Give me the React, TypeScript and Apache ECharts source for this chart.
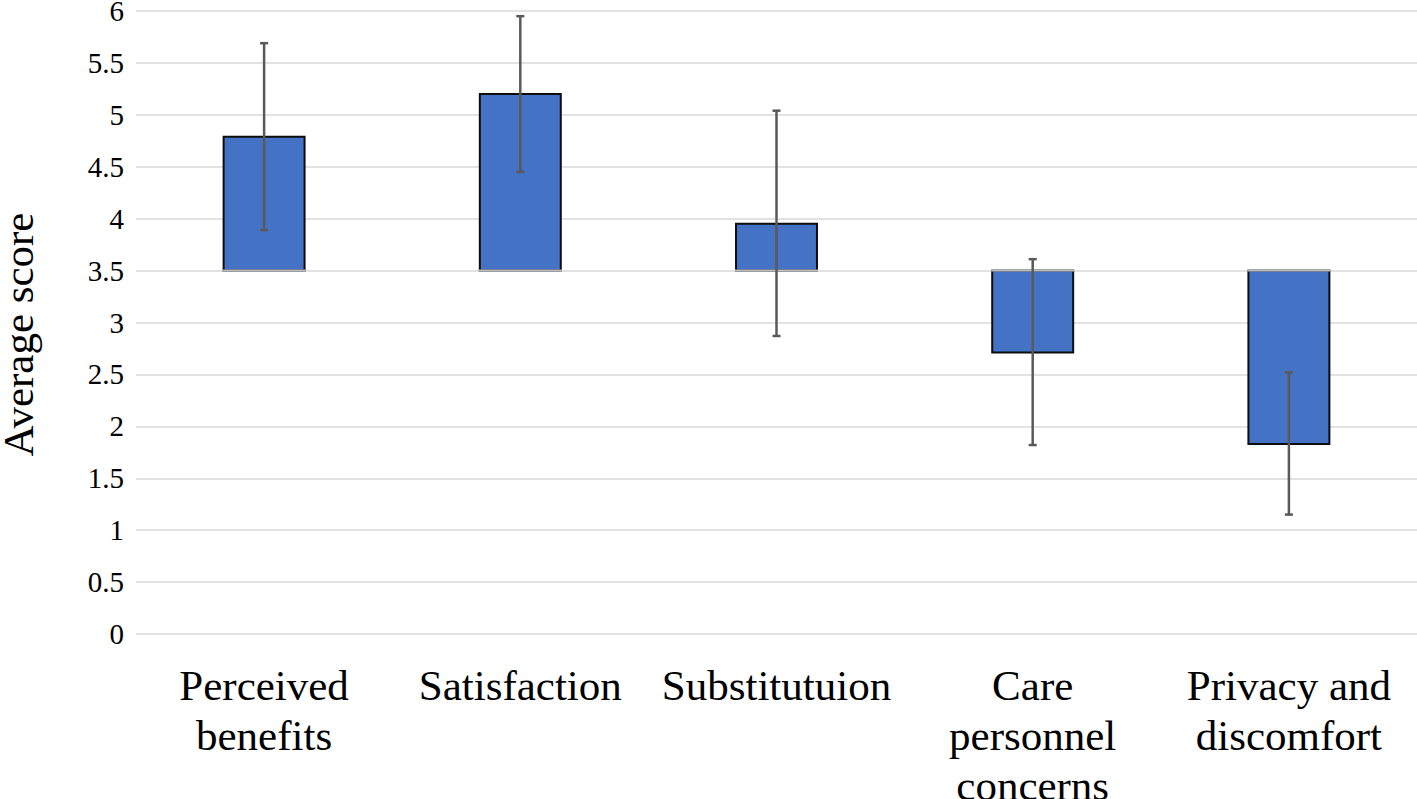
import React, { useEffect, useRef } from "react";
import * as echarts from "echarts";

const categories = [
  "Perceived\nbenefits",
  "Satisfaction",
  "Substitutuion",
  "Care\npersonnel\nconcerns",
  "Privacy and\ndiscomfort",
];
const means = [4.79, 5.2, 3.95, 2.71, 1.83];
const errLow = [3.89, 4.45, 2.87, 1.82, 1.15];
const errHigh = [5.69, 5.95, 5.04, 3.61, 2.52];
const baseline = 3.5;
const yTicks = { min: 0, max: 6, interval: 0.5 };

const FONT = "Liberation Serif";
const GRID = "#d9d9d9";

export default function App() {
  const ref = useRef<HTMLDivElement>(null);
  useEffect(() => {
    if (!ref.current) return;
    const chart = echarts.init(ref.current, undefined, { renderer: "svg" });
    const barData = means.map((m, i) => [i, m]);
    const errData = means.map((m, i) => [i, errLow[i], errHigh[i]]);
    chart.setOption({
      animation: false,
      backgroundColor: "#ffffff",
      textStyle: { fontFamily: FONT },
      grid: { left: 136, right: 0, top: 11, bottom: 165, containLabel: false, outerBoundsMode: "none" },
      xAxis: {
        type: "category",
        data: categories,
        boundaryGap: true,
        axisLine: { show: false },
        axisTick: { show: false },
        splitLine: { show: false },
        axisLabel: {
          interval: 0,
          color: "#000",
          fontFamily: FONT,
          fontSize: 43,
          lineHeight: 50,
          margin: 26,
        },
      },
      yAxis: {
        type: "value",
        min: yTicks.min,
        max: yTicks.max,
        interval: yTicks.interval,
        name: "Average score",
        nameLocation: "middle",
        nameGap: 96,
        nameRotate: 90,
        nameTextStyle: { color: "#000", fontFamily: FONT, fontSize: 43, padding: [0, 24, 0, 0] },
        axisLine: { show: false },
        axisTick: { show: false },
        axisLabel: { color: "#000", fontFamily: FONT, fontSize: 29, margin: 12 },
        splitLine: { lineStyle: { color: GRID, width: 1.5 } },
      },
      series: [
        {
          type: "custom",
          data: barData,
          encode: { x: 0, y: 1 },
          renderItem: (params: any, api: any) => {
            const idx = api.value(0);
            const v = api.value(1);
            const pBase = api.coord([idx, baseline]);
            const pVal = api.coord([idx, v]);
            const bw = api.size([1, 0])[0] * 0.316;
            const y0 = Math.min(pBase[1], pVal[1]);
            const h = Math.abs(pBase[1] - pVal[1]);
            return {
              type: "group",
              children: [
                {
                  type: "rect",
                  shape: { x: pBase[0] - bw / 2, y: y0, width: bw, height: h },
                  style: { fill: "#4472C4", stroke: "#0d0d0d", lineWidth: 2 },
                },
                {
                  type: "line",
                  shape: { x1: pBase[0] - bw / 2 - 1, y1: pBase[1], x2: pBase[0] + bw / 2 + 1, y2: pBase[1] },
                  style: { stroke: "#bfbfbf", lineWidth: 2 },
                },
              ],
            };
          },
          z: 2,
        },
        {
          type: "custom",
          data: errData,
          encode: { x: 0, y: [1, 2] },
          renderItem: (params: any, api: any) => {
            const idx = api.value(0);
            const lo = api.coord([idx, api.value(1)]);
            const hi = api.coord([idx, api.value(2)]);
            const cap = 4;
            const st = { stroke: "#595959", lineWidth: 2.5 };
            return {
              type: "group",
              children: [
                { type: "line", shape: { x1: lo[0], y1: lo[1], x2: hi[0], y2: hi[1] }, style: st },
                { type: "line", shape: { x1: lo[0] - cap, y1: lo[1], x2: lo[0] + cap, y2: lo[1] }, style: st },
                { type: "line", shape: { x1: hi[0] - cap, y1: hi[1], x2: hi[0] + cap, y2: hi[1] }, style: st },
              ],
            };
          },
          z: 3,
        },
      ],
    });
    return () => chart.dispose();
  }, []);
  return (
    <div
      ref={ref}
      style={{ position: "fixed", left: 0, top: 0, width: 1417, height: 799, background: "#fff" }}
    />
  );
}
